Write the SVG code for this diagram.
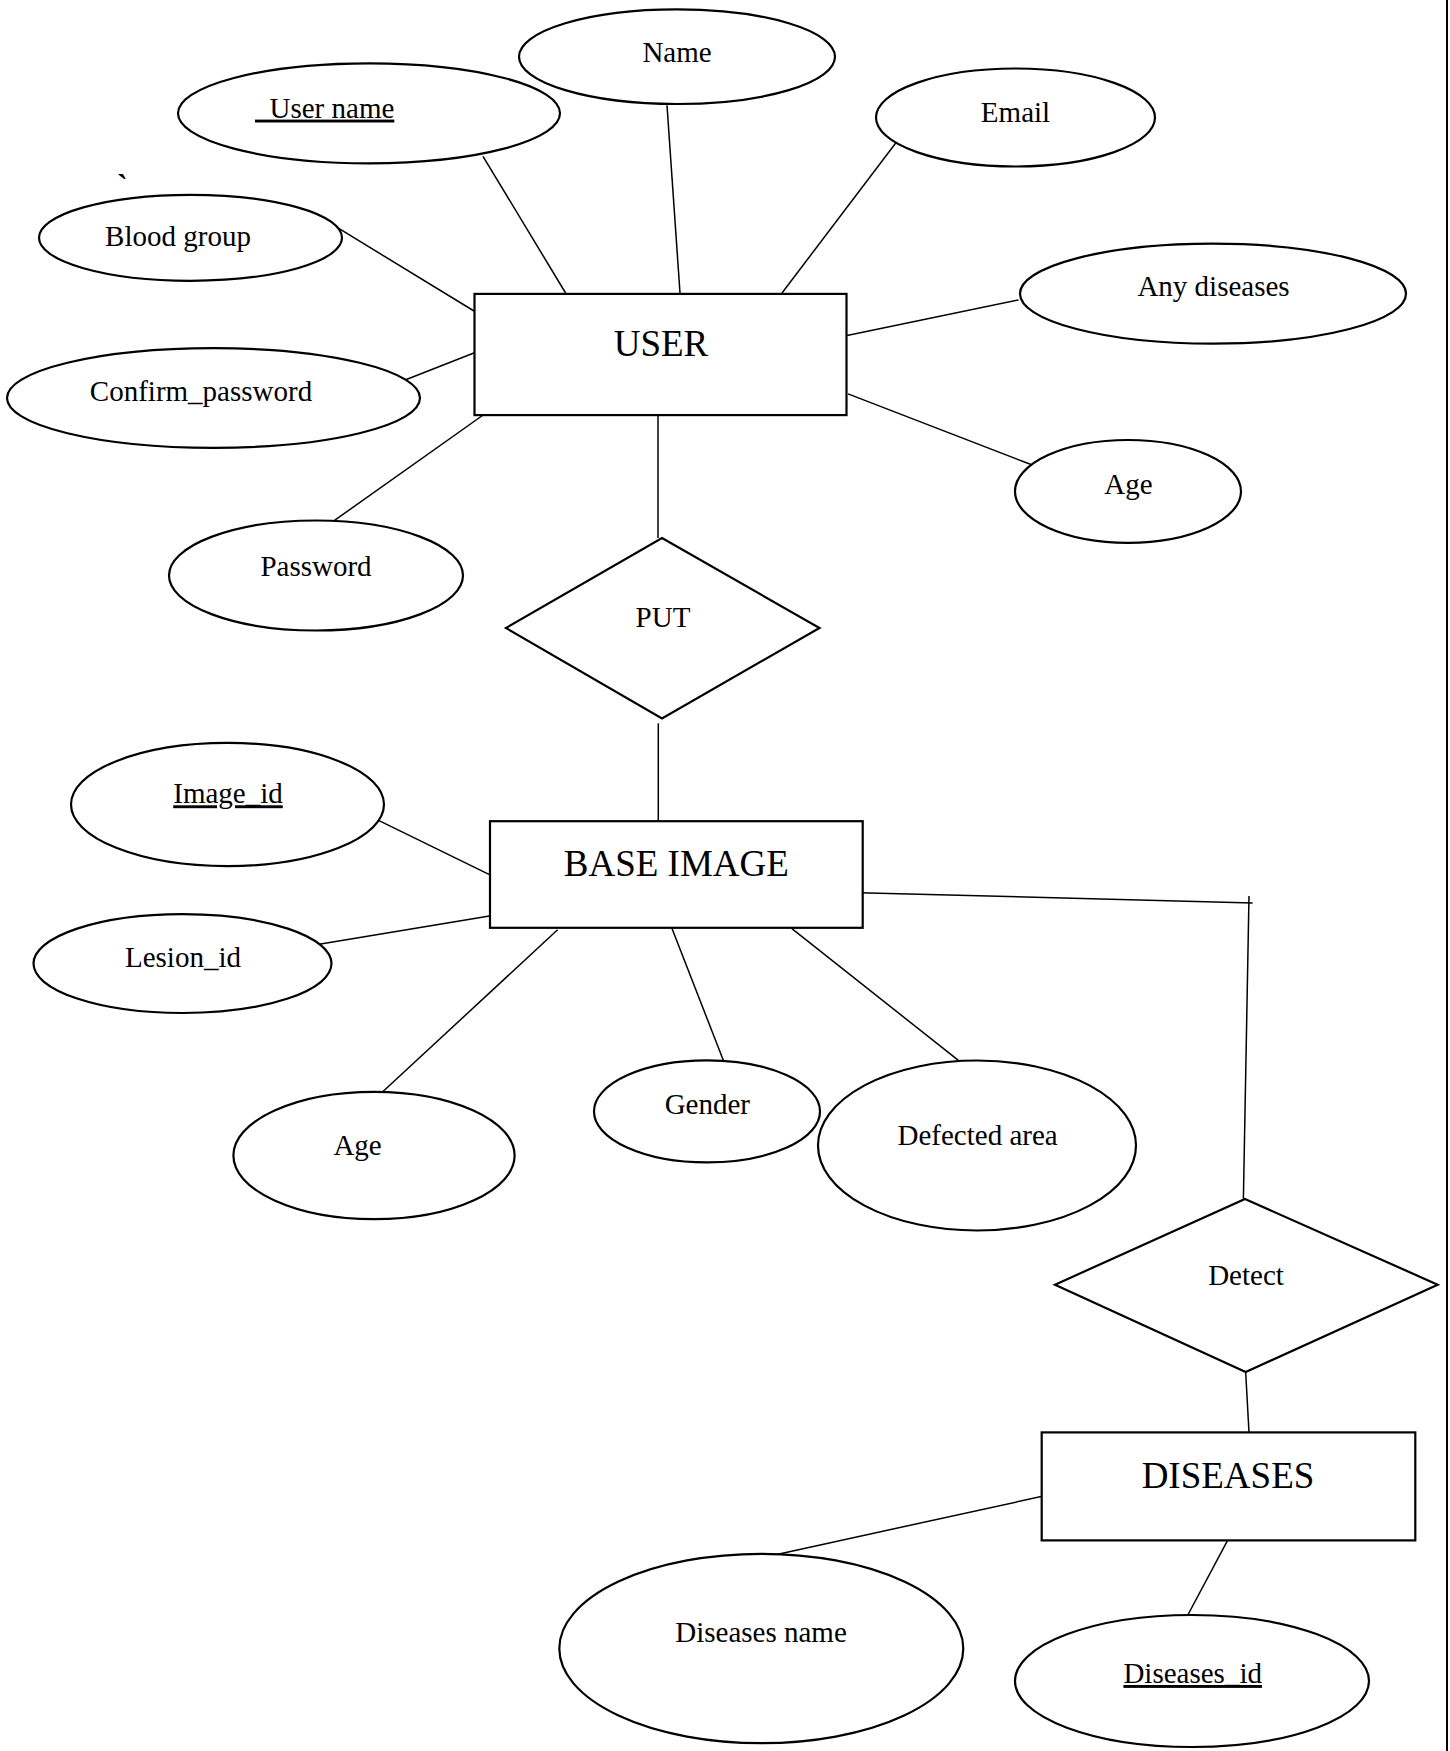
<svg xmlns="http://www.w3.org/2000/svg" width="1450" height="1751" viewBox="0 0 1450 1751">
<style>
.shape{fill:#fff;stroke:#000;stroke-width:2.2}
.conn line{stroke:#000;stroke-width:1.5}
text{font-family:"Liberation Serif","Times New Roman",serif;fill:#000}
.attr{font-size:29px;text-anchor:middle}
.ent{font-size:37px;text-anchor:middle}
.rel{font-size:27px;text-anchor:middle}
.key{text-decoration:underline}
</style>
<rect width="1450" height="1751" fill="#fff"/>
<line x1="1447" y1="0" x2="1447" y2="1751" stroke="#000" stroke-width="2"/>
<text x="117" y="196" font-size="32" font-weight="bold">`</text>
<g id="connectors" class="conn">
<line x1="667" y1="105.3" x2="680" y2="293"/>
<line x1="483" y1="156.3" x2="565.6" y2="293"/>
<line x1="902" y1="134.7" x2="782" y2="293"/>
<line x1="331" y1="223.7" x2="474" y2="311"/>
<line x1="847" y1="335.5" x2="1018.5" y2="300"/>
<line x1="400" y1="382" x2="477" y2="351.8"/>
<line x1="848" y1="393.9" x2="1031" y2="464.5"/>
<line x1="334.5" y1="520.4" x2="486" y2="413"/>
<line x1="658" y1="415" x2="658" y2="538"/>
<line x1="658.3" y1="723.3" x2="658.3" y2="821.2"/>
<line x1="377" y1="819.6" x2="495.6" y2="877.6"/>
<line x1="314.6" y1="944.9" x2="492.5" y2="915.5"/>
<line x1="557.6" y1="929.8" x2="382.7" y2="1091.8"/>
<line x1="672" y1="928.6" x2="723.4" y2="1060.4"/>
<line x1="791.9" y1="928.6" x2="958.4" y2="1060.4"/>
<line x1="858.9" y1="892.7" x2="1252.6" y2="903"/>
<line x1="1249" y1="896" x2="1243.4" y2="1198.8"/>
<line x1="1245.7" y1="1372.7" x2="1249" y2="1432.4"/>
<line x1="1045.7" y1="1495.6" x2="767.7" y2="1556.4"/>
<line x1="1230" y1="1535.8" x2="1181.7" y2="1626.5"/>
</g>
<g id="user">
<rect class="shape" x="474.5" y="293.9" width="372" height="121.2"/>
<text class="ent" x="661" y="356">USER</text>
</g>
<g id="base-image">
<rect class="shape" x="490" y="821.2" width="372.7" height="106.6"/>
<text class="ent" x="676.3" y="876">BASE IMAGE</text>
</g>
<g id="diseases">
<rect class="shape" x="1041.7" y="1432.4" width="373.6" height="108"/>
<text class="ent" x="1228" y="1488">DISEASES</text>
</g>
<g id="put">
<polygon class="shape" points="662,538 819.5,628 662,718.4 506,628"/>
<text class="attr" x="663" y="626.5">PUT</text>
</g>
<g id="detect">
<polygon class="shape" points="1245,1199 1437.7,1284.7 1245.7,1372 1055,1284.7"/>
<text class="attr" x="1246" y="1284.7">Detect</text>
</g>
<g id="attr-name">
<ellipse class="shape" cx="677" cy="56.7" rx="158" ry="47.3"/>
<text class="attr" x="677" y="62">Name</text>
</g>
<g id="attr-username">
<ellipse class="shape" cx="369" cy="113.3" rx="191" ry="50"/>
<text class="key" x="255" y="117.6" font-size="29" xml:space="preserve" style="white-space:pre">  User name</text>
</g>
<g id="attr-email">
<ellipse class="shape" cx="1015.5" cy="117.5" rx="139.5" ry="49"/>
<text class="attr" x="1015.5" y="122.4">Email</text>
</g>
<g id="attr-bloodgroup">
<ellipse class="shape" cx="190.5" cy="237.8" rx="151.5" ry="43"/>
<text class="attr" x="178" y="246">Blood group</text>
</g>
<g id="attr-anydiseases">
<ellipse class="shape" cx="1213" cy="293.7" rx="193" ry="50"/>
<text class="attr" x="1213.5" y="296">Any diseases</text>
</g>
<g id="attr-confirm">
<ellipse class="shape" cx="213.5" cy="398" rx="206.5" ry="49.8"/>
<text class="attr" x="201" y="401.2">Confirm_password</text>
</g>
<g id="attr-age-user">
<ellipse class="shape" cx="1128" cy="491.4" rx="113" ry="51.4"/>
<text class="attr" x="1128.5" y="494">Age</text>
</g>
<g id="attr-password">
<ellipse class="shape" cx="316" cy="575.5" rx="147" ry="55"/>
<text class="attr" x="316" y="575.5">Password</text>
</g>
<g id="attr-imageid">
<ellipse class="shape" cx="227.5" cy="804.5" rx="156.5" ry="61.6"/>
<text class="attr key" x="228" y="803.3">Image_id</text>
</g>
<g id="attr-lesionid">
<ellipse class="shape" cx="182.5" cy="963.6" rx="149" ry="49.4"/>
<text class="attr" x="183" y="966.5">Lesion_id</text>
</g>
<g id="attr-age-image">
<ellipse class="shape" cx="374" cy="1155.5" rx="140.6" ry="63.7"/>
<text class="attr" x="357.6" y="1155">Age</text>
</g>
<g id="attr-gender">
<ellipse class="shape" cx="707" cy="1111.4" rx="113" ry="51"/>
<text class="attr" x="707.3" y="1113.5">Gender</text>
</g>
<g id="attr-defected">
<ellipse class="shape" cx="977" cy="1145.5" rx="159" ry="85"/>
<text class="attr" x="977.6" y="1145">Defected area</text>
</g>
<g id="attr-diseasesname">
<ellipse class="shape" cx="761.3" cy="1648.5" rx="202" ry="94.7"/>
<text class="attr" x="761" y="1642">Diseases name</text>
</g>
<g id="attr-diseasesid">
<ellipse class="shape" cx="1192" cy="1681" rx="177" ry="66"/>
<text class="attr key" x="1192.7" y="1683">Diseases_id</text>
</g>
</svg>
